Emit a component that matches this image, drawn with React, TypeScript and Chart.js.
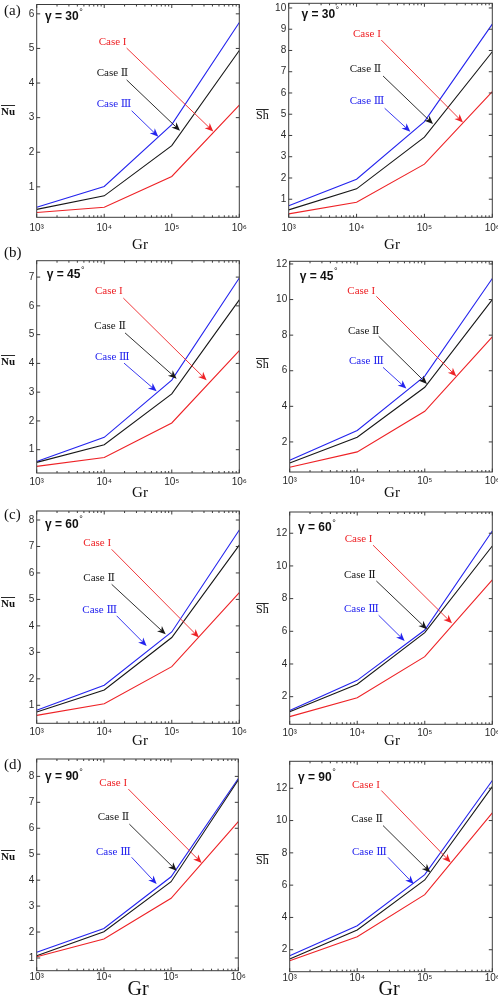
import React, { useEffect, useRef } from 'react';
import { Chart, registerables } from 'chart.js';

Chart.register(...registerables);

// Grashof numbers (horizontal axis, logarithmic)
const grashof = [1e3, 1e4, 1e5, 1e6];
const grTicks = [1e3, 1e4, 1e5, 1e6];
const caseLabels = ['Case I', 'Case Ⅱ', 'Case Ⅲ'];

// Average Nusselt number for Case I, II, III
const nu30CaseI = [0.26, 0.41, 1.3, 3.36];
const nu30CaseII = [0.35, 0.74, 2.19, 4.94];
const nu30CaseIII = [0.41, 1.01, 2.8, 5.75];
const nu45CaseI = [0.42, 0.73, 1.93, 4.44];
const nu45CaseII = [0.56, 1.17, 2.94, 6.21];
const nu45CaseIII = [0.59, 1.43, 3.42, 6.97];
const nu60CaseI = [0.62, 1.06, 2.46, 5.26];
const nu60CaseII = [0.75, 1.58, 3.56, 7.05];
const nu60CaseIII = [0.81, 1.76, 3.77, 7.62];
const nu90CaseI = [1.05, 1.73, 3.3, 6.26];
const nu90CaseII = [1.09, 2.01, 3.94, 7.86];
const nu90CaseIII = [1.22, 2.14, 4.13, 7.92];

// Average Sherwood number for Case I, II, III
const sh30CaseI = [0.31, 0.86, 2.65, 6.06];
const sh30CaseII = [0.5, 1.49, 3.92, 7.94];
const sh30CaseIII = [0.69, 1.94, 4.65, 9.24];
const sh45CaseI = [0.58, 1.44, 3.72, 7.9];
const sh45CaseII = [0.82, 2.26, 5.07, 10.0];
const sh45CaseIII = [0.97, 2.64, 5.7, 11.18];
const sh60CaseI = [0.78, 1.94, 4.45, 9.14];
const sh60CaseII = [1.08, 2.76, 5.92, 11.22];
const sh60CaseIII = [1.16, 3.0, 6.08, 12.14];
const sh90CaseI = [1.32, 2.81, 5.41, 10.47];
const sh90CaseII = [1.42, 3.22, 6.32, 12.1];
const sh90CaseIII = [1.63, 3.49, 6.65, 12.48];

// Vertical tick values
const nuTicks30 = [1, 2, 3, 4, 5, 6];
const nuTicks45 = [1, 2, 3, 4, 5, 6, 7];
const nuTicks60 = [1, 2, 3, 4, 5, 6, 7, 8];
const nuTicks90 = [1, 2, 3, 4, 5, 6, 7, 8];
const shTicks30 = [1, 2, 3, 4, 5, 6, 7, 8, 9, 10];
const shTicks45 = [2, 4, 6, 8, 10, 12];
const shTicks60 = [2, 4, 6, 8, 10, 12];
const shTicks90 = [2, 4, 6, 8, 10, 12];

const COLORS = ['rgb(238,34,38)', 'rgb(24,24,24)', 'rgb(36,36,238)'];
const SUP: Record<string, string> = { '3': '³', '4': '⁴', '5': '⁵', '6': '⁶' };
const SANS = '"Liberation Sans Narrow", "Liberation Sans", Arial, sans-serif';
const SANS_WIDE = '"Liberation Sans", Arial, sans-serif';
const SERIF = '"Liberation Serif", "DejaVu Serif", "Noto Sans CJK JP", serif';

// note = [textExp, textVal, fromExp, fromVal, toExp, toVal] (exponent of Gr, axis value)
type Note = number[];
type Panel = {
  letter: string | null;
  letterPos: number[];
  angle: number;
  yTitle: string;
  yTitlePos: number[];
  yTitleFont: string;
  grPos: number[];
  grSize: number;
  series: number[][];
  yTicks: number[];
  yMin: number;
  yMax: number;
  box: number[]; // plot edges on the page: left, top, right, bottom
  xPad: number;
  notes: Note[];
  gamma: number[];
};

const panels: Panel[] = [
  {
    letter: '(a)', letterPos: [4, 11], angle: 30,
    yTitle: 'Nu', yTitlePos: [1, 112], yTitleFont: `bold 11px ${SERIF}`,
    grPos: [140, 245], grSize: 15,
    series: [nu30CaseI, nu30CaseII, nu30CaseIII], yTicks: nuTicks30, yMin: 0.12, yMax: 6.27,
    box: [36.7, 4.5, 239.3, 217.3], xPad: 5.4,
    notes: [
      [3.918, 5.18, 4.332, 5.01, 5.615, 2.6],
      [3.888, 4.29, 4.332, 4.09, 5.122, 2.62],
      [3.888, 3.39, 4.406, 3.2, 4.801, 2.45],
    ],
    gamma: [3.123, 5.92],
  },
  {
    letter: null, letterPos: [0, 0], angle: 30,
    yTitle: 'Sh', yTitlePos: [256, 116], yTitleFont: `12px ${SERIF}`,
    grPos: [392, 245], grSize: 15,
    series: [sh30CaseI, sh30CaseII, sh30CaseIII], yTicks: shTicks30, yMin: 0.15, yMax: 10.22,
    box: [288.7, 3.3, 492.3, 217.3], xPad: 5.4,
    notes: [
      [3.948, 8.76, 4.365, 8.49, 5.568, 4.61],
      [3.898, 7.11, 4.39, 6.8, 5.126, 4.54],
      [3.898, 5.62, 4.414, 5.28, 4.792, 4.18],
    ],
    gamma: [3.187, 9.67],
  },
  {
    letter: '(b)', letterPos: [4, 253], angle: 45,
    yTitle: 'Nu', yTitlePos: [1, 362], yTitleFont: `bold 11px ${SERIF}`,
    grPos: [140, 493], grSize: 15,
    series: [nu45CaseI, nu45CaseII, nu45CaseIII], yTicks: nuTicks45, yMin: 0.19, yMax: 7.57,
    box: [36.7, 260.7, 239.3, 473], xPad: 3,
    notes: [
      [3.863, 6.53, 4.283, 6.27, 5.516, 3.41],
      [3.854, 5.29, 4.308, 5.06, 5.072, 3.47],
      [3.863, 4.23, 4.293, 4.01, 4.776, 3.03],
    ],
    gamma: [3.148, 7.08],
  },
  {
    letter: null, letterPos: [0, 0], angle: 45,
    yTitle: 'Sh', yTitlePos: [256, 365], yTitleFont: `12px ${SERIF}`,
    grPos: [392, 493], grSize: 15,
    series: [sh45CaseI, sh45CaseII, sh45CaseIII], yTicks: shTicks45, yMin: 0.31, yMax: 12.15,
    box: [289.7, 261.3, 492.3, 472], xPad: 3,
    notes: [
      [3.854, 10.5, 4.283, 10.18, 5.467, 5.69],
      [3.863, 8.25, 4.317, 7.94, 5.033, 5.26],
      [3.878, 6.53, 4.382, 6.19, 4.727, 5.0],
    ],
    gamma: [3.148, 11.31],
  },
  {
    letter: '(c)', letterPos: [4, 515.5], angle: 60,
    yTitle: 'Nu', yTitlePos: [1, 604], yTitleFont: `bold 11px ${SERIF}`,
    grPos: [140, 741], grSize: 15,
    series: [nu60CaseI, nu60CaseII, nu60CaseIII], yTicks: nuTicks60, yMin: 0.32, yMax: 8.34,
    box: [36.7, 511, 239.3, 723.3], xPad: 3.4,
    notes: [
      [3.691, 7.11, 4.11, 6.89, 5.403, 3.56],
      [3.691, 5.79, 4.11, 5.57, 4.91, 3.68],
      [3.676, 4.6, 4.184, 4.38, 4.628, 3.24],
    ],
    gamma: [3.123, 7.84],
  },
  {
    letter: null, letterPos: [0, 0], angle: 60,
    yTitle: 'Sh', yTitlePos: [256, 610], yTitleFont: `12px ${SERIF}`,
    grPos: [392, 741], grSize: 15,
    series: [sh60CaseI, sh60CaseII, sh60CaseIII], yTicks: shTicks60, yMin: 0.31, yMax: 13.3,
    box: [289.7, 512, 492.3, 724.3], xPad: 3.4,
    notes: [
      [3.814, 11.63, 4.234, 11.27, 5.403, 6.49],
      [3.804, 9.43, 4.283, 9.08, 5.033, 6.12],
      [3.804, 7.35, 4.317, 6.98, 4.702, 5.41],
    ],
    gamma: [3.123, 12.35],
  },
  {
    letter: '(d)', letterPos: [4, 765], angle: 90,
    yTitle: 'Nu', yTitlePos: [1, 857], yTitleFont: `bold 11px ${SERIF}`,
    grPos: [138, 990], grSize: 20,
    series: [nu90CaseI, nu90CaseII, nu90CaseIII], yTicks: nuTicks90, yMin: 0.51, yMax: 8.67,
    box: [36.7, 759, 238.3, 970.7], xPad: 1,
    notes: [
      [3.932, 7.73, 4.364, 7.51, 5.455, 4.66],
      [3.907, 6.42, 4.379, 6.16, 5.083, 4.36],
      [3.883, 5.1, 4.413, 4.88, 4.785, 3.85],
    ],
    gamma: [3.124, 7.98],
  },
  {
    letter: null, letterPos: [0, 0], angle: 90,
    yTitle: 'Sh', yTitlePos: [256, 861], yTitleFont: `12px ${SERIF}`,
    grPos: [389, 990], grSize: 20,
    series: [sh90CaseI, sh90CaseII, sh90CaseIII], yTicks: shTicks90, yMin: 0.64, yMax: 13.67,
    box: [289.7, 761.3, 492.3, 971.7], xPad: 1,
    notes: [
      [3.923, 12.21, 4.357, 11.86, 5.383, 7.41],
      [3.913, 10.1, 4.382, 9.69, 5.082, 6.79],
      [3.923, 8.07, 4.456, 7.72, 4.836, 6.07],
    ],
    gamma: [3.123, 12.68],
  },
];

const Y_AXIS_W = 24;
const X_AXIS_H = 20;

function canvasRect(p: Panel) {
  const [L, T, , B] = p.box;
  const x = L < 249 ? 0 : 249;
  const y = Math.max(0, Math.floor(T) - 14);
  const bottom = Math.min(998, Math.ceil(B) + 34);
  return { x, y, w: 249, h: bottom - y };
}

function drawArrow(ctx: CanvasRenderingContext2D, x1: number, y1: number, x2: number, y2: number, color: string) {
  const ang = Math.atan2(y2 - y1, x2 - x1);
  const len = 8.5;
  const half = 3.6;
  const back = 6;
  ctx.strokeStyle = color;
  ctx.fillStyle = color;
  ctx.lineWidth = 0.9;
  ctx.beginPath();
  ctx.moveTo(x1, y1);
  ctx.lineTo(x2 - Math.cos(ang) * back, y2 - Math.sin(ang) * back);
  ctx.stroke();
  ctx.save();
  ctx.translate(x2, y2);
  ctx.rotate(ang);
  ctx.beginPath();
  ctx.moveTo(0, 0);
  ctx.lineTo(-len, -half);
  ctx.lineTo(-back, 0);
  ctx.lineTo(-len, half);
  ctx.closePath();
  ctx.fill();
  ctx.restore();
}

function framePlugin(p: Panel, ox: number, oy: number) {
  return {
    id: 'frameAndNotes',
    afterDatasetsDraw(chart: any) {
      const ctx: CanvasRenderingContext2D = chart.ctx;
      const a = chart.chartArea;
      const xs = chart.scales.x;
      const ys = chart.scales.y;
      ctx.save();

      // axes box
      ctx.strokeStyle = '#3c3c3c';
      ctx.lineWidth = 1;
      ctx.strokeRect(a.left, a.top, a.right - a.left, a.bottom - a.top);

      // inward tick marks, mirrored on the opposite edges
      ctx.beginPath();
      for (let k = 3; k <= 6; k++) {
        for (let m = 1; m <= 9; m++) {
          if (k === 6 && m > 1) break;
          const v = m * Math.pow(10, k);
          const px = xs.getPixelForValue(v);
          const len = m === 1 ? 3.5 : 2;
          ctx.moveTo(px, a.bottom);
          ctx.lineTo(px, a.bottom - len);
          ctx.moveTo(px, a.top);
          ctx.lineTo(px, a.top + len);
        }
      }
      p.yTicks.forEach((v) => {
        const py = ys.getPixelForValue(v);
        ctx.moveTo(a.left, py);
        ctx.lineTo(a.left + 3.5, py);
        ctx.moveTo(a.right, py);
        ctx.lineTo(a.right - 3.5, py);
      });
      ctx.stroke();

      const X = (e: number) => xs.getPixelForValue(Math.pow(10, e));
      const Y = (v: number) => ys.getPixelForValue(v);

      // case labels with arrows
      ctx.textBaseline = 'middle';
      ctx.textAlign = 'left';
      p.notes.forEach((n, i) => {
        ctx.font = `11px ${SERIF}`;
        ctx.fillStyle = COLORS[i];
        ctx.fillText(caseLabels[i], X(n[0]), Y(n[1]));
        drawArrow(ctx, X(n[2]), Y(n[3]), X(n[4]), Y(n[5]), COLORS[i]);
      });

      // inclination angle
      ctx.fillStyle = '#111';
      ctx.font = `bold 12px ${SANS_WIDE}`;
      const gx = X(p.gamma[0]);
      const gy = Y(p.gamma[1]);
      const gText = `γ = ${p.angle}`;
      ctx.fillText(gText, gx, gy);
      const gw = ctx.measureText(gText).width;
      ctx.font = `9px ${SANS_WIDE}`;
      ctx.fillText('°', gx + gw + 0.5, gy - 4.5);

      // panel letter
      if (p.letter) {
        ctx.font = `15px ${SERIF}`;
        ctx.fillStyle = '#111';
        ctx.fillText(p.letter, p.letterPos[0] - ox, p.letterPos[1] - oy);
      }

      // vertical axis title with overbar
      ctx.font = p.yTitleFont;
      ctx.fillStyle = '#111';
      const tx = p.yTitlePos[0] - ox;
      const ty = p.yTitlePos[1] - oy;
      ctx.fillText(p.yTitle, tx, ty);
      const tw = ctx.measureText(p.yTitle).width;
      ctx.strokeStyle = '#111';
      ctx.lineWidth = 0.9;
      ctx.beginPath();
      ctx.moveTo(tx, ty - 6.5);
      ctx.lineTo(tx + tw, ty - 6.5);
      ctx.stroke();

      // horizontal axis title
      ctx.font = `${p.grSize}px ${SERIF}`;
      ctx.textAlign = 'center';
      ctx.fillText('Gr', p.grPos[0] - ox, p.grPos[1] - oy);

      ctx.restore();
    },
  };
}

function buildChart(canvas: HTMLCanvasElement, p: Panel) {
  const r = canvasRect(p);
  const [L, T, R, B] = p.box;
  const padding = {
    left: L - r.x - Y_AXIS_W,
    top: T - r.y,
    right: r.x + r.w - R,
    bottom: r.y + r.h - B - X_AXIS_H,
  };
  return new Chart(canvas, {
    type: 'line',
    data: {
      datasets: p.series.map((s, i) => ({
        label: caseLabels[i],
        data: s.map((v, j) => ({ x: grashof[j], y: v })),
        borderColor: COLORS[i],
        borderWidth: 1.1,
        pointRadius: 0,
        tension: 0,
        fill: false,
      })),
    },
    options: {
      responsive: false,
      animation: false,
      devicePixelRatio: 1,
      events: [],
      layout: { padding },
      plugins: { legend: { display: false }, tooltip: { enabled: false } },
      scales: {
        x: {
          type: 'logarithmic',
          min: 1e3,
          max: 1e6,
          grid: { display: false, drawTicks: false },
          border: { display: false },
          ticks: {
            autoSkip: false,
            maxRotation: 0,
            padding: p.xPad,
            color: '#2a2a2a',
            font: { family: SANS, size: 10 },
            callback: (v: any) => '10' + SUP[String(Math.round(Math.log10(Number(v))))],
          },
          afterBuildTicks: (s: any) => {
            s.ticks = grTicks.map((v) => ({ value: v }));
          },
          afterFit: (s: any) => {
            s.height = X_AXIS_H;
            s.paddingLeft = 0;
            s.paddingRight = 0;
          },
        },
        y: {
          type: 'linear',
          min: p.yMin,
          max: p.yMax,
          grid: { display: false, drawTicks: false },
          border: { display: false },
          ticks: {
            padding: 2.5,
            color: '#2a2a2a',
            font: { family: SANS, size: 10 },
          },
          afterBuildTicks: (s: any) => {
            s.ticks = p.yTicks.map((v) => ({ value: v }));
          },
          afterFit: (s: any) => {
            s.width = Y_AXIS_W;
            s.paddingTop = 0;
            s.paddingBottom = 0;
          },
        },
      },
    } as any,
    plugins: [framePlugin(p, r.x, r.y)],
  });
}

function PanelChart({ p }: { p: Panel }) {
  const ref = useRef<HTMLCanvasElement>(null);
  useEffect(() => {
    if (!ref.current) return;
    const chart = buildChart(ref.current, p);
    return () => chart.destroy();
  }, [p]);
  const r = canvasRect(p);
  return (
    <canvas
      ref={ref}
      width={r.w}
      height={r.h}
      style={{ position: 'absolute', left: r.x, top: r.y, width: r.w, height: r.h }}
    />
  );
}

export default function App() {
  return (
    <div
      style={{
        position: 'absolute',
        left: 0,
        top: 0,
        width: 498,
        height: 998,
        overflow: 'hidden',
        background: '#fff',
      }}
    >
      {panels.map((p, i) => (
        <PanelChart key={i} p={p} />
      ))}
    </div>
  );
}
